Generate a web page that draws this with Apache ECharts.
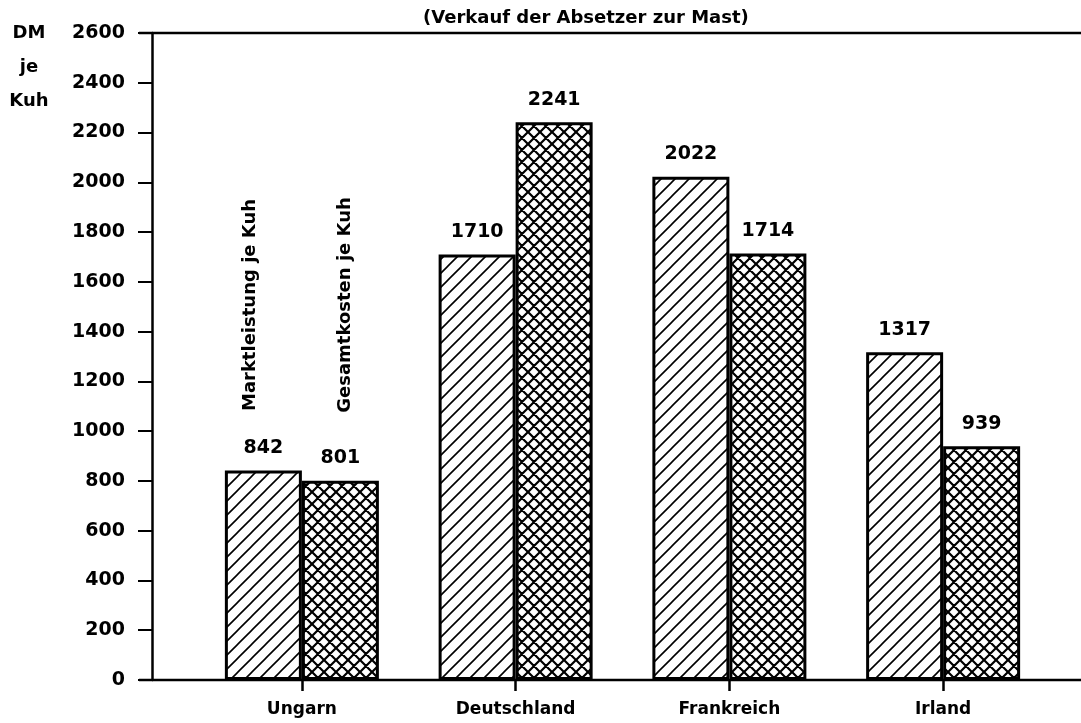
<!DOCTYPE html>
<html>
<head>
<meta charset="utf-8">
<script src="https://cdn.jsdelivr.net/npm/echarts@6/dist/echarts.min.js"></script>
<style>
  html, body { margin: 0; padding: 0; background: #fff; }
  #chart { width: 1081px; height: 723px; }
</style>
</head>
<body>
<div id="chart"></div>
<script>
const categories = ['Ungarn', 'Deutschland', 'Frankreich', 'Irland']
const marktleistung = [842, 1710, 2022, 1317]
const gesamtkosten = [801, 2241, 1714, 939]
const seriesNames = ['Marktleistung je Kuh', 'Gesamtkosten je Kuh']

const FONT = '"DejaVu Sans", sans-serif'

// Schraffur als Canvas-Muster
const makeHatch = (cross) => {
  const s = cross ? 12 : 14
  const c = document.createElement('canvas')
  c.width = s
  c.height = s
  const ctx = c.getContext('2d')
  ctx.fillStyle = '#fff'
  ctx.fillRect(0, 0, s, s)
  ctx.strokeStyle = '#000'
  ctx.lineWidth = cross ? 2.2 : 1.6
  ctx.beginPath()
  ctx.moveTo(-1, s + 1); ctx.lineTo(s + 1, -1)
  ctx.moveTo(-2, 2); ctx.lineTo(2, -2)
  ctx.moveTo(s - 2, s + 2); ctx.lineTo(s + 2, s - 2)
  if (cross) {
    ctx.moveTo(-1, -1); ctx.lineTo(s + 1, s + 1)
    ctx.moveTo(s - 2, -2); ctx.lineTo(s + 2, 2)
    ctx.moveTo(-2, s - 2); ctx.lineTo(2, s + 2)
  }
  ctx.stroke()
  return c
}

const barStyle = (cross) => ({
  color: { image: makeHatch(cross), repeat: 'repeat' },
  borderColor: '#000',
  borderWidth: 3
})

const valueLabel = {
  show: true,
  position: 'top',
  distance: 13,
  color: '#000',
  fontFamily: FONT,
  fontWeight: 'bold',
  fontSize: 19
}

const chart = echarts.init(document.getElementById('chart'))
chart.setOption({
  backgroundColor: '#fff',
  animation: false,
  title: {
    text: '(Verkauf der Absetzer zur Mast)',
    left: 423,
    top: 9,
    padding: 0,
    textStyle: { fontFamily: FONT, fontWeight: 'bold', fontSize: 18, color: '#000' }
  },
  grid: { left: 195, right: 31, top: 33, bottom: 43 },
  xAxis: {
    type: 'category',
    data: categories,
    axisLine: { show: false },
    axisTick: { show: true, alignWithLabel: true, length: 11, lineStyle: { color: '#000', width: 2.5 } },
    axisLabel: { color: '#000', fontFamily: FONT, fontWeight: 'bold', fontSize: 17, margin: 21 }
  },
  yAxis: {
    type: 'value',
    min: 0,
    max: 2600,
    interval: 200,
    offset: 43,
    splitLine: { show: false },
    axisLine: { show: true, lineStyle: { color: '#000', width: 2.5 } },
    axisTick: { show: true, length: 14, lineStyle: { color: '#000', width: 2 } },
    axisLabel: {
      color: '#000', fontFamily: FONT, fontWeight: 'bold', fontSize: 19, margin: 27,
      formatter: (v) => String(v)
    }
  },
  graphic: [
    // Rahmenlinien oben und unten
    { type: 'line', shape: { x1: 139, y1: 33, x2: 1081, y2: 33 }, style: { stroke: '#000', lineWidth: 2.5 } },
    { type: 'line', shape: { x1: 139, y1: 680, x2: 1081, y2: 680 }, style: { stroke: '#000', lineWidth: 2.5 }, z: 10 },
    {
      type: 'text', x: 29, y: 16,
      style: { text: 'DM\nje\nKuh', font: 'bold 18px ' + FONT, fill: '#000', align: 'center', textAlign: 'center', verticalAlign: 'top', textVerticalAlign: 'top', lineHeight: 34 }
    },
    {
      type: 'text', x: 250, y: 305, rotation: Math.PI / 2,
      style: { text: seriesNames[0], font: 'bold 18px ' + FONT, fill: '#000', align: 'center', textAlign: 'center', verticalAlign: 'middle', textVerticalAlign: 'middle' }
    },
    {
      type: 'text', x: 345, y: 305, rotation: Math.PI / 2,
      style: { text: seriesNames[1], font: 'bold 18px ' + FONT, fill: '#000', align: 'center', textAlign: 'center', verticalAlign: 'middle', textVerticalAlign: 'middle' }
    }
  ],
  series: [
    {
      name: seriesNames[0],
      type: 'bar',
      data: marktleistung,
      barWidth: 77,
      barGap: '0%',
      itemStyle: barStyle(false),
      label: valueLabel
    },
    {
      name: seriesNames[1],
      type: 'bar',
      data: gesamtkosten,
      barWidth: 77,
      barGap: '0%',
      itemStyle: barStyle(true),
      label: valueLabel
    }
  ]
})
</script>
</body>
</html>
